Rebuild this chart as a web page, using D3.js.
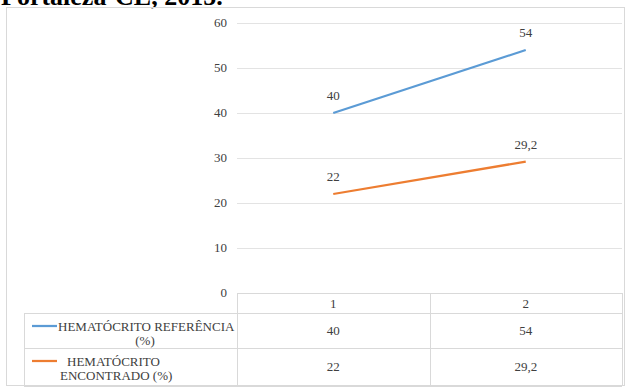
<!DOCTYPE html>
<html>
<head>
<meta charset="utf-8">
<script src="https://cdn.jsdelivr.net/npm/d3@7"></script>
<style>
  body { margin: 0; background: #fff; }
</style>
</head>
<body>
<div id="chart"></div>
<script>
const categories = ['1', '2'];
const seriesNames = [['HEMATÓCRITO REFERÊNCIA', '(%)'], ['HEMATÓCRITO', 'ENCONTRADO (%)']];
const referencia = [40, 54];
const encontrado = [22, 29.2];
const yTicks = [0, 10, 20, 30, 40, 50, 60];

const seriesColors = ['#5b9bd5', '#ed7d31'];
const series = [referencia, encontrado];
const fmt = v => String(v).replace('.', ',');
const serif = "'Liberation Serif', 'DejaVu Serif', serif";

const width = 632, height = 389;
const plotLeft = 237, plotRight = 622, plotTop = 23, plotBottom = 293;

const svg = d3.select('#chart').append('svg')
    .attr('width', width)
    .attr('height', height)
    .attr('font-family', serif);

// cut off title line from the page above
svg.append('text')
    .attr('x', 1).attr('y', 5)
    .attr('font-family', serif)
    .attr('font-size', 26)
    .attr('font-weight', 'bold')
    .attr('fill', '#000')
    .text('Fortaleza-CE, 2015.');

// chart border
svg.append('rect')
    .attr('x', 6.5).attr('y', 7.5)
    .attr('width', 618).attr('height', 378)
    .attr('fill', 'none')
    .attr('stroke', '#d9d9d9');

const x = d3.scaleBand().domain(categories).range([plotLeft, plotRight]);
const y = d3.scaleLinear().domain([0, 60]).range([plotBottom, plotTop]);

// gridlines
svg.append('g').selectAll('line')
    .data(yTicks.filter(d => d > 0))
    .enter().append('line')
    .attr('x1', plotLeft).attr('x2', plotRight)
    .attr('y1', d => Math.round(y(d)) + 0.5)
    .attr('y2', d => Math.round(y(d)) + 0.5)
    .attr('stroke', '#e3e3e3');

// y tick labels
svg.append('g').selectAll('text')
    .data(yTicks)
    .enter().append('text')
    .attr('x', 227)
    .attr('y', d => y(d) + 4)
    .attr('text-anchor', 'end')
    .attr('font-family', serif)
    .attr('font-size', 13)
    .attr('fill', '#404040')
    .text(d => d);

// lines
const line = d3.line()
    .x((d, i) => x(categories[i]) + x.bandwidth() / 2)
    .y(d => y(d));

series.forEach((s, k) => {
    svg.append('path')
        .datum(s)
        .attr('d', line)
        .attr('fill', 'none')
        .attr('stroke', seriesColors[k])
        .attr('stroke-width', 2.25);

    svg.append('g').selectAll('text')
        .data(s)
        .enter().append('text')
        .attr('x', (d, i) => x(categories[i]) + x.bandwidth() / 2)
        .attr('y', d => y(d) - 13)
        .attr('text-anchor', 'middle')
        .attr('font-family', serif)
        .attr('font-size', 13)
        .attr('fill', '#404040')
        .text(d => fmt(d));
});

// data table
const tableColor = '#d9d9d9';
const rowTops = [plotBottom, 313, 348, 386];
const tbl = svg.append('g')
    .attr('font-family', serif)
    .attr('font-size', 13)
    .attr('fill', '#404040');

// header row (categories)
tbl.append('line')
    .attr('x1', plotLeft).attr('x2', plotRight)
    .attr('y1', plotBottom + 0.5).attr('y2', plotBottom + 0.5)
    .attr('stroke', tableColor);
[1, 2, 3].forEach(r => {
    tbl.append('line')
        .attr('x1', 24).attr('x2', plotRight)
        .attr('y1', rowTops[r] + 0.5).attr('y2', rowTops[r] + 0.5)
        .attr('stroke', tableColor);
});
// vertical lines
const vx = [plotLeft, x('2'), plotRight];
vx.forEach(v => {
    tbl.append('line')
        .attr('x1', Math.round(v) + 0.5).attr('x2', Math.round(v) + 0.5)
        .attr('y1', plotBottom).attr('y2', rowTops[3])
        .attr('stroke', tableColor);
});
tbl.append('line')
    .attr('x1', 24.5).attr('x2', 24.5)
    .attr('y1', rowTops[1]).attr('y2', rowTops[3])
    .attr('stroke', tableColor);

tbl.selectAll('text.cat')
    .data(categories)
    .enter().append('text')
    .attr('class', 'cat')
    .attr('x', d => x(d) + x.bandwidth() / 2)
    .attr('y', 308)
    .attr('text-anchor', 'middle')
    .text(d => d);

series.forEach((s, k) => {
    const top = rowTops[k + 1], bottom = rowTops[k + 2];
    const mid = (top + bottom) / 2;
    tbl.selectAll('text.v' + k)
        .data(s)
        .enter().append('text')
        .attr('x', (d, i) => x(categories[i]) + x.bandwidth() / 2)
        .attr('y', mid + 4)
        .attr('text-anchor', 'middle')
        .text(d => fmt(d));

    tbl.append('line')
        .attr('x1', 32).attr('x2', 57)
        .attr('y1', top + 13).attr('y2', top + 13)
        .attr('stroke', seriesColors[k])
        .attr('stroke-width', 2.25);
});

// legend labels
tbl.append('text').attr('x', 58).attr('y', 331).text(seriesNames[0][0]);
tbl.append('text').attr('x', 145).attr('y', 345).attr('text-anchor', 'middle').text(seriesNames[0][1]);
tbl.append('text').attr('x', 67).attr('y', 366).text(seriesNames[1][0]);
tbl.append('text').attr('x', 60).attr('y', 380).text(seriesNames[1][1]);
</script>
</body>
</html>
